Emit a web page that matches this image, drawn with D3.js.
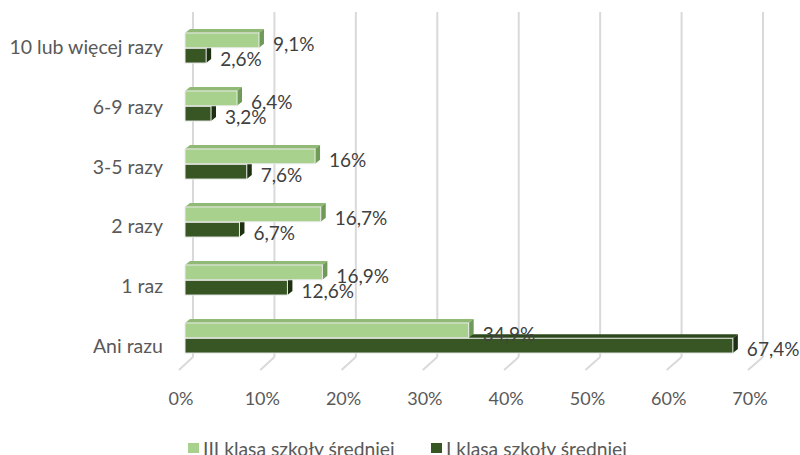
<!DOCTYPE html>
<html>
<head>
<meta charset="utf-8">
<style>
  body { margin: 0; background: #fff; }
  text { font-family: Lato, "Open Sans", sans-serif; }
  .grid { stroke: #d9d9d9; stroke-width: 2px; }
  .cat { font-size: 19.5px; fill: #595959; }
  .tick { font-size: 18px; fill: #595959; }
  .val { font-size: 19px; fill: #404040; }
  .leg { font-size: 19.3px; fill: #595959; }
</style>
</head>
<body>
<svg id="chart" width="800" height="455"></svg>
<script src="https://d3js.org/d3.v7.min.js"></script>
<script>
  const categories = ["10 lub więcej razy", "6-9 razy", "3-5 razy", "2 razy", "1 raz", "Ani razu"];
  const seriesNames = ["III klasa szkoły średniej", "I klasa szkoły średniej"];
  const klasa3 = [9.1, 6.4, 16, 16.7, 16.9, 34.9];
  const klasa1 = [2.6, 3.2, 7.6, 6.7, 12.6, 67.4];
  const ticks = [0, 10, 20, 30, 40, 50, 60, 70];

  const colors = [
    { front: "#a9d18e", top: "#8fb975", side: "#6f9a57" },
    { front: "#375623", top: "#2d481c", side: "#1d3011" }
  ];

  const svg = d3.select("#chart");

  // 3D look: front floor edge, bar plane and back wall are shifted copies
  const xFront = d3.scaleLinear().domain([0, 70]).range([179, 748]);
  const xBar = d3.scaleLinear().domain([0, 70]).range([185, 754]);
  const xBack = d3.scaleLinear().domain([0, 70]).range([193, 763]);
  const wallTop = 12, floorBack = 357, floorFront = 370;

  const y0 = d3.scaleBand().domain(categories).range([19, 367])
    .paddingInner(0.465).paddingOuter(0.2325);
  const y1 = d3.scaleBand().domain(seriesNames).range([0, y0.bandwidth()]).padding(0.03);
  const yLabel = d3.scaleBand().domain(categories).range([17, 375]);

  const depthX = 5, depthY = 4;

  // back wall gridlines + floor lines
  const grid = svg.append("g");
  grid.selectAll("line.wall").data(ticks).join("line")
    .attr("class", "grid")
    .attr("x1", d => xBack(d)).attr("x2", d => xBack(d))
    .attr("y1", wallTop).attr("y2", floorBack);
  grid.selectAll("line.floor").data(ticks).join("line")
    .attr("class", "grid")
    .attr("x1", d => xBack(d)).attr("y1", floorBack)
    .attr("x2", d => xFront(d)).attr("y2", floorFront);

  // bars, dark series first so the light one covers its top face
  const rows = categories.map((c, i) => ({ cat: c, vals: [klasa3[i], klasa1[i]] }));
  const barData = [];
  [1, 0].forEach(s => rows.forEach(r => barData.push({ cat: r.cat, s: s, v: r.vals[s] })));

  const bars = svg.append("g").selectAll("g").data(barData).join("g");

  bars.each(function(d) {
    const g = d3.select(this);
    const x0 = xBar(0), x1 = xBar(d.v);
    const top = y0(d.cat) + y1(seriesNames[d.s]);
    const h = y1.bandwidth();
    const c = colors[d.s];
    g.append("polygon")
      .attr("points", [[x0, top], [x1, top], [x1 + depthX, top - depthY], [x0 + depthX, top - depthY]].join(" "))
      .attr("fill", c.top);
    g.append("polygon")
      .attr("points", [[x1, top], [x1 + depthX, top - depthY], [x1 + depthX, top + h - depthY], [x1, top + h]].join(" "))
      .attr("fill", c.side);
    g.append("rect")
      .attr("x", x0).attr("y", top)
      .attr("width", x1 - x0).attr("height", h)
      .attr("fill", c.front)
      .attr("stroke", "#ececec").attr("stroke-width", 1);
  });

  // value labels
  svg.append("g").selectAll("text").data(barData).join("text")
    .attr("class", "val")
    .attr("x", d => xBar(d.v) + 14)
    .attr("y", d => y0(d.cat) + y1(seriesNames[d.s]) + y1.bandwidth() / 2 + 3)
    .attr("dominant-baseline", "central")
    .text(d => String(d.v).replace(".", ",") + "%");

  // category labels
  svg.append("g").selectAll("text").data(categories).join("text")
    .attr("class", "cat")
    .attr("x", 163)
    .attr("y", d => yLabel(d) + yLabel.bandwidth() / 2)
    .attr("text-anchor", "end")
    .attr("dominant-baseline", "central")
    .text(d => d);

  // x tick labels
  svg.append("g").selectAll("text").data(ticks).join("text")
    .attr("class", "tick")
    .attr("x", d => xFront(d) + 2)
    .attr("y", 398)
    .attr("text-anchor", "middle")
    .attr("dominant-baseline", "central")
    .text(d => d + "%");

  // legend
  const legX = [188, 431];
  const leg = svg.append("g").selectAll("g").data(seriesNames).join("g")
    .attr("transform", (d, i) => `translate(${legX[i]},443)`);
  leg.append("rect").attr("width", 11).attr("height", 10)
    .attr("fill", (d, i) => colors[i].front);
  leg.append("text").attr("class", "leg")
    .attr("x", 15).attr("y", 5)
    .attr("dominant-baseline", "central")
    .text(d => d);
</script>
</body>
</html>
